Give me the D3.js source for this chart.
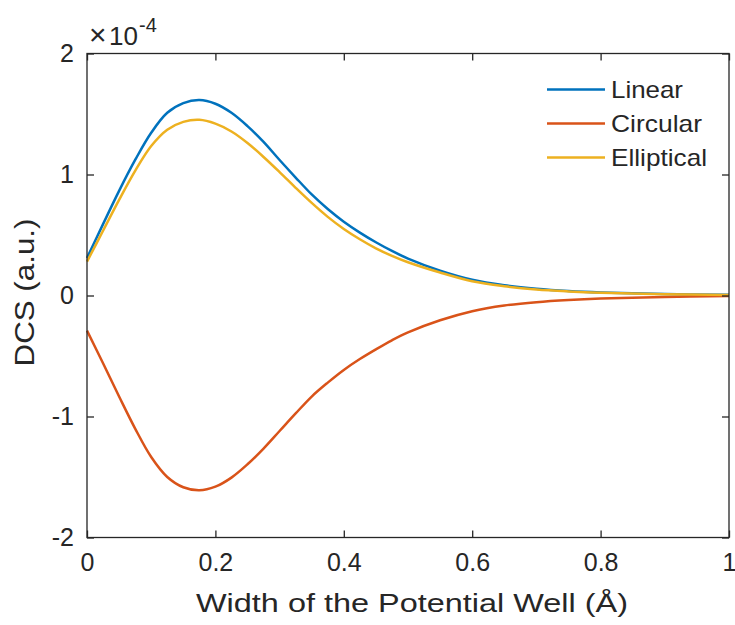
<!DOCTYPE html>
<html>
<head>
<meta charset="utf-8">
<script src="https://cdn.jsdelivr.net/npm/d3@7"></script>
<style>
  body { margin:0; background:#fff; }
  text { font-family: Arial, "Liberation Sans", Helvetica, sans-serif; fill:#262626; }
</style>
</head>
<body>
<div id="plot"></div>
<script>
/* data (DCS in units of 1e-4) */
var widths     = [0, 0.025, 0.05, 0.075, 0.1, 0.125, 0.15, 0.175, 0.2, 0.225, 0.25, 0.275, 0.3, 0.325, 0.35, 0.375, 0.4, 0.425, 0.45, 0.475, 0.5, 0.55, 0.6, 0.65, 0.7, 0.75, 0.8, 0.9, 1.0];
var linear     = [0.31, 0.59, 0.865, 1.12, 1.345, 1.51, 1.59, 1.615, 1.585, 1.51, 1.40, 1.27, 1.12, 0.975, 0.835, 0.715, 0.61, 0.52, 0.44, 0.368, 0.305, 0.205, 0.13, 0.085, 0.056, 0.037, 0.025, 0.012, 0.006];
var circular   = [-0.29, -0.56, -0.835, -1.10, -1.335, -1.50, -1.585, -1.61, -1.58, -1.505, -1.395, -1.265, -1.12, -0.975, -0.835, -0.72, -0.615, -0.525, -0.445, -0.37, -0.305, -0.205, -0.13, -0.083, -0.055, -0.037, -0.025, -0.012, -0.005];
var elliptical = [0.28, 0.535, 0.79, 1.03, 1.235, 1.37, 1.435, 1.452, 1.42, 1.355, 1.26, 1.145, 1.02, 0.89, 0.765, 0.65, 0.55, 0.465, 0.39, 0.328, 0.275, 0.19, 0.118, 0.077, 0.05, 0.034, 0.023, 0.011, 0.005];

var seriesNames  = ['Linear', 'Circular', 'Elliptical'];
var seriesColors = ['#0072BD', '#D95319', '#EDB120'];
var labelWidths  = [72, 91, 96];   // measured legend label widths
var xTicks = [0, 0.2, 0.4, 0.6, 0.8, 1];
var yTicks = [-2, -1, 0, 1, 2];

var W = 735, H = 625;
var margin = {t:53.5, r:6, b:87.5, l:87};
var width = W - margin.l - margin.r,
    height = H - margin.t - margin.b;

var svg = d3.select('#plot').append('svg')
    .attr('width', W)
    .attr('height', H);

var plot = svg.append('g')
    .attr('transform', 'translate(' + margin.l + ',' + margin.t + ')');

var x = d3.scaleLinear().domain([0, 1]).range([0, width]);
var y = d3.scaleLinear().domain([-2, 2]).range([height, 0]);

var series = [linear, circular, elliptical].map(function(vals, i) {
    return {name: seriesNames[i], color: seriesColors[i], labelW: labelWidths[i],
            values: vals.map(function(v, j) { return {x: widths[j], y: v}; })};
});

var line = d3.line()
    .x(function(d) { return x(d.x); })
    .y(function(d) { return y(d.y); })
    .curve(d3.curveCatmullRom.alpha(0.5));

plot.selectAll('.curve')
    .data(series)
    .enter()
    .append('path')
    .attr('class', 'curve')
    .attr('d', function(d) { return line(d.values); })
    .style('fill', 'none')
    .style('stroke', function(d) { return d.color; })
    .style('stroke-width', 2.5);

// axes: ticks inside on all four sides
var tickLen = 7;
var fmt = function(d) { return String(d); };   // plain hyphen minus like the original
var axisStyle = function(g) {
    g.select('.domain').remove();
    g.selectAll('.tick line').attr('stroke', '#262626').attr('stroke-width', 1.3);
};

plot.append('g')
    .attr('transform', 'translate(0,' + height + ')')
    .call(d3.axisBottom(x).tickValues(xTicks).tickSize(-tickLen).tickPadding(16).tickFormat(fmt))
    .call(axisStyle)
    .selectAll('text').style('font-size', '25px').attr('fill', '#262626');

plot.append('g')
    .call(d3.axisTop(x).tickValues(xTicks).tickSize(-tickLen).tickFormat(''))
    .call(axisStyle);

plot.append('g')
    .call(d3.axisLeft(y).tickValues(yTicks).tickSize(-tickLen).tickPadding(13).tickFormat(fmt))
    .call(axisStyle)
    .selectAll('text').style('font-size', '25px').attr('fill', '#262626');

plot.append('g')
    .attr('transform', 'translate(' + width + ',0)')
    .call(d3.axisRight(y).tickValues(yTicks).tickSize(-tickLen).tickFormat(''))
    .call(axisStyle);

// box
plot.append('rect')
    .attr('width', width)
    .attr('height', height)
    .style('fill', 'none')
    .style('stroke', '#262626')
    .style('stroke-width', 1.3);

// exponent label
svg.append('text')
    .attr('x', 89)
    .attr('y', 45)
    .style('font-size', '30px')
    .text('\u00d7');
svg.append('text')
    .attr('x', 109)
    .attr('y', 45)
    .style('font-size', '26px')
    .text('10');
svg.append('text')
    .attr('x', 139)
    .attr('y', 32)
    .style('font-size', '20px')
    .text('-4');

// axis titles
svg.append('text')
    .attr('x', 412)
    .attr('y', 611.5)
    .attr('text-anchor', 'middle')
    .attr('textLength', 432)
    .attr('lengthAdjust', 'spacingAndGlyphs')
    .style('font-size', '26px')
    .text('Width of the Potential Well (\u00c5)');

svg.append('text')
    .attr('transform', 'translate(34,292.5) rotate(-90)')
    .attr('text-anchor', 'middle')
    .attr('textLength', 148)
    .attr('lengthAdjust', 'spacingAndGlyphs')
    .style('font-size', '27px')
    .text('DCS (a.u.)');

// legend (no box)
var legend = svg.selectAll('.legend')
    .data(series)
    .enter()
    .append('g')
    .attr('class', 'legend')
    .attr('transform', function(d, i) { return 'translate(547,' + (89.5 + i * 34) + ')'; });

legend.append('line')
    .attr('x1', 0).attr('x2', 58)
    .style('stroke', function(d) { return d.color; })
    .style('stroke-width', 2.5);

legend.append('text')
    .attr('x', 64)
    .attr('dy', '0.36em')
    .attr('textLength', function(d) { return d.labelW; })
    .attr('lengthAdjust', 'spacingAndGlyphs')
    .style('font-size', '24px')
    .text(function(d) { return d.name; });
</script>
</body>
</html>
